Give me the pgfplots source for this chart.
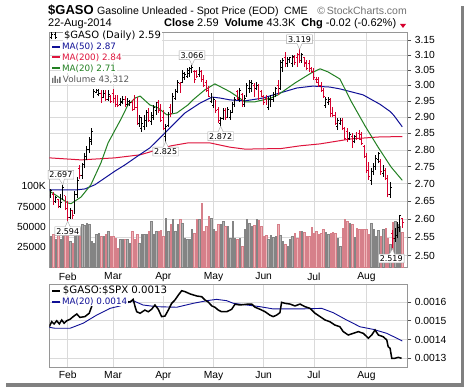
\documentclass[border=0pt]{standalone}
\usepackage{pgfplots}
\pgfplotsset{compat=1.18}
\usepackage{pgfplotstable}
\usepackage{fontspec}
\setmainfont{Liberation Sans}
\newfontfamily\dv{DejaVu Sans}
\usetikzlibrary{shapes.callouts}

\definecolor{pred}{RGB}{214,0,46}
\definecolor{maBlue}{RGB}{16,16,150}
\definecolor{maRed}{RGB}{222,20,60}
\definecolor{maGreen}{RGB}{34,128,34}
\definecolor{vgrayF}{RGB}{180,180,180}
\definecolor{vgrayD}{RGB}{132,132,132}
\definecolor{vpinkF}{RGB}{240,182,186}
\definecolor{vpinkD}{RGB}{214,128,138}
\definecolor{gridc}{RGB}{218,218,218}
\definecolor{framec}{RGB}{150,150,150}

\newcommand\tlf{\fontsize{10.3}{12}\selectfont}

\pgfplotstableread{
i O H L C V u
-7 2.665 2.685 2.66 2.68 38.6 1
-6 2.67 2.675 2.64 2.65 40.6 0
-5 2.65 2.665 2.645 2.66 34.5 1
-4 2.655 2.655 2.63 2.635 40.6 0
-3 2.635 2.67 2.63 2.645 34.5 1
-2 2.655 2.697 2.655 2.69 40.6 1
-1 2.665 2.665 2.625 2.63 40.6 0
0 2.63 2.65 2.594 2.605 48.9 0
1 2.605 2.63 2.60 2.625 32.4 1
2 2.625 2.625 2.60 2.61 30.4 0
3 2.615 2.68 2.615 2.67 38.6 1
4 2.67 2.72 2.66 2.71 44.7 1
5 2.745 2.755 2.715 2.725 48.9 0
6 2.725 2.76 2.715 2.75 53.0 1
7 2.755 2.79 2.745 2.78 51.7 1
8 2.78 2.81 2.77 2.80 54.2 1
9 2.80 2.84 2.79 2.83 53.0 1
10 2.825 2.865 2.815 2.855 32.4 1
11 2.965 2.99 2.96 2.98 30.4 1
12 2.978 2.99 2.975 2.985 40.6 1
13 2.97 2.99 2.965 2.975 42.7 1
14 2.975 2.985 2.945 2.95 38.6 0
15 2.962 2.985 2.96 2.975 38.6 1
16 2.975 2.985 2.95 2.955 40.6 0
17 2.955 2.985 2.95 2.97 44.7 1
18 2.965 2.97 2.945 2.95 38.6 0
19 2.975 2.99 2.945 2.96 38.6 0
20 2.96 2.97 2.93 2.94 36.5 0
21 2.95 2.97 2.93 2.935 24.2 0
22 2.94 2.96 2.935 2.95 34.5 1
23 2.945 2.965 2.94 2.955 34.5 1
24 2.955 2.965 2.93 2.935 34.5 0
25 2.94 2.96 2.935 2.95 35.3 1
26 2.94 2.955 2.935 2.945 30.4 1
27 2.945 2.955 2.92 2.925 44.7 0
28 2.955 2.97 2.922 2.93 35.3 0
29 2.93 2.963 2.876 2.885 40.6 0
30 2.88 2.907 2.87 2.90 30.4 1
31 2.865 2.90 2.855 2.88 41.8 1
32 2.87 2.907 2.86 2.895 41.8 1
33 2.89 2.922 2.87 2.915 40.6 1
34 2.915 2.928 2.885 2.89 44.7 0
35 2.885 2.916 2.876 2.905 57.1 1
36 2.90 2.938 2.891 2.93 40.6 1
37 2.92 2.948 2.907 2.94 44.7 1
38 2.945 2.954 2.913 2.92 44.7 0
39 2.925 2.94 2.885 2.89 46.0 0
40 2.90 2.922 2.86 2.865 38.6 0
41 2.84 2.88 2.825 2.87 61.1 1
42 2.875 2.916 2.87 2.905 44.7 1
43 2.93 2.94 2.90 2.91 53.0 0
44 2.92 2.976 2.913 2.965 59.1 1
45 2.96 2.99 2.954 2.98 44.7 1
46 2.98 3.018 2.976 3.01 53.0 1
47 3.005 3.012 2.976 2.99 59.9 0
48 3.01 3.05 3.008 3.04 55.0 1
49 3.025 3.044 3.018 3.035 36.5 1
50 3.03 3.057 3.025 3.05 34.5 1
51 3.04 3.06 3.028 3.055 34.5 1
52 3.05 3.066 3.04 3.06 46.8 1
53 3.045 3.05 3.008 3.02 42.7 0
54 3.045 3.05 3.025 3.03 59.9 0
55 3.035 3.06 3.028 3.05 59.1 1
56 3.045 3.05 3.012 3.02 79.6 0
57 3.025 3.034 2.995 3.00 44.7 0
58 3.01 3.018 2.98 2.985 50.9 0
59 2.99 2.998 2.963 2.965 63.5 0
60 2.95 2.976 2.944 2.97 61.1 1
61 2.935 2.963 2.928 2.955 46.8 1
62 2.95 2.954 2.913 2.92 44.7 0
63 2.925 2.932 2.882 2.89 53.0 0
64 2.88 2.90 2.872 2.895 53.0 1
65 2.895 2.928 2.891 2.92 57.1 1
66 2.92 2.928 2.891 2.90 50.9 0
67 2.90 2.932 2.897 2.925 50.9 1
68 2.90 2.922 2.891 2.915 36.5 1
69 2.915 2.947 2.913 2.94 57.1 1
70 2.94 2.963 2.932 2.955 36.5 1
71 2.98 2.986 2.954 2.96 35.3 0
72 2.955 2.992 2.948 2.985 36.5 1
73 2.97 2.976 2.932 2.94 26.3 0
74 2.94 2.97 2.932 2.96 46.8 1
75 2.965 3.008 2.963 3.00 59.9 1
76 2.99 3.018 2.976 3.01 55.0 1
77 2.99 3.018 2.98 3.005 50.9 1
78 3.00 3.008 2.963 2.97 51.7 0
79 2.99 3.012 2.986 3.00 59.1 1
80 2.995 3.005 2.954 2.96 58.3 0
81 2.98 2.986 2.963 2.965 50.9 0
82 2.965 2.97 2.938 2.945 38.6 0
83 2.96 2.97 2.938 2.94 39.4 0
84 2.93 2.963 2.922 2.955 35.3 1
85 2.94 2.97 2.93 2.955 39.4 1
86 2.955 2.98 2.948 2.97 37.7 1
87 2.97 2.995 2.963 2.99 38.6 1
88 3.00 3.018 2.97 2.975 53.0 0
89 2.99 3.083 2.986 3.075 39.4 1
90 3.06 3.09 3.044 3.08 32.4 1
91 3.09 3.11 3.06 3.065 28.3 0
92 3.07 3.094 3.06 3.085 26.3 1
93 3.08 3.094 3.074 3.09 34.5 1
94 3.07 3.10 3.06 3.095 38.6 1
95 3.09 3.10 3.067 3.075 42.7 0
96 3.09 3.107 3.06 3.07 36.5 0
97 3.10 3.119 3.074 3.08 44.7 0
98 3.08 3.107 3.074 3.10 44.7 1
99 3.09 3.094 3.06 3.07 43.5 0
100 3.075 3.083 3.05 3.055 38.6 0
101 3.07 3.083 3.044 3.05 38.6 0
102 3.055 3.06 3.04 3.045 49.6 0
103 3.05 3.057 3.018 3.025 42.7 0
104 3.02 3.028 3.008 3.01 44.7 0
105 3.02 3.028 2.995 3.00 40.6 0
106 3.00 3.012 2.98 2.985 42.7 0
107 2.985 2.992 2.96 2.965 46.8 0
108 2.935 2.963 2.928 2.955 43.5 1
109 2.945 2.963 2.938 2.955 41.8 1
110 2.95 2.96 2.90 2.91 42.7 0
111 2.925 2.932 2.90 2.905 43.5 0
112 2.905 2.916 2.876 2.88 42.7 0
113 2.87 2.897 2.86 2.89 36.5 1
114 2.88 2.897 2.876 2.89 26.3 1
115 2.89 2.897 2.86 2.865 48.9 0
116 2.86 2.87 2.83 2.835 59.1 0
117 2.855 2.866 2.824 2.83 57.1 0
118 2.835 2.854 2.83 2.845 55.0 1
119 2.84 2.85 2.806 2.81 53.0 0
120 2.825 2.845 2.82 2.84 37.7 1
121 2.85 2.854 2.83 2.835 48.1 0
122 2.85 2.86 2.83 2.832 46.8 0
123 2.845 2.854 2.815 2.82 47.7 0
124 2.81 2.815 2.776 2.78 46.8 0
125 2.78 2.79 2.732 2.74 46.8 0
126 2.75 2.764 2.711 2.72 40.6 0
127 2.71 2.746 2.697 2.735 55.0 1
128 2.735 2.76 2.726 2.75 46.8 1
129 2.75 2.785 2.74 2.775 38.6 1
130 2.77 2.794 2.76 2.79 46.0 1
131 2.765 2.773 2.726 2.735 38.6 0
132 2.73 2.755 2.72 2.745 47.7 1
133 2.74 2.746 2.711 2.715 48.9 0
134 2.715 2.726 2.662 2.67 36.5 0
135 2.67 2.705 2.66 2.69 28.3 1
136 2.56 2.57 2.519 2.545 56.3 0
137 2.545 2.575 2.537 2.56 57.1 1
138 2.555 2.592 2.547 2.575 53.0 1
139 2.575 2.611 2.564 2.61 50.9 1
140 2.60 2.603 2.575 2.59 43.3 0
}\pricedata
\pgfplotstablegetrowsof{\pricedata}
\pgfmathtruncatemacro\lastrow{\pgfplotsretval-1}

\newcommand\getrow[1]{%
  \pgfplotstablegetelem{#1}{i}\of\pricedata\let\bX\pgfplotsretval
  \pgfplotstablegetelem{#1}{O}\of\pricedata\let\bO\pgfplotsretval
  \pgfplotstablegetelem{#1}{H}\of\pricedata\let\bH\pgfplotsretval
  \pgfplotstablegetelem{#1}{L}\of\pricedata\let\bL\pgfplotsretval
  \pgfplotstablegetelem{#1}{C}\of\pricedata\let\bC\pgfplotsretval
  \pgfplotstablegetelem{#1}{V}\of\pricedata\let\bV\pgfplotsretval
  \pgfplotstablegetelem{#1}{u}\of\pricedata\let\bU\pgfplotsretval}

\pgfplotsset{
  panel/.style={scale only axis, width=358pt, xmin=-7.7, xmax=142.1, anchor=south west},
  barup/.style={black, line width=1pt, unbounded coords=jump, mark=none},
  bardn/.style={pred, line width=1pt, unbounded coords=jump, mark=none},
  volup/.style={ybar, bar width=1.45pt, bar shift=0pt, fill=vgrayF, draw=vgrayD, line width=0.45pt},
  voldn/.style={ybar, bar width=1.45pt, bar shift=0pt, fill=vpinkF, draw=vpinkD, line width=0.45pt},
}
\tikzset{
  pricebox/.style={rectangle callout, draw=gray!70, fill=white, inner sep=1.4pt,
     font=\dv\fontsize{8}{9}\selectfont, callout pointer width=5pt},
}

\begin{document}
\begin{tikzpicture}[x=1pt,y=1pt]
\path[use as bounding box] (0,0) rectangle (464,387);
\fill[black!50] (6,0) rectangle (464,381);
\fill[white] (0,3.5) rectangle (460.5,387);

% ---------- price panel: grid, ticks and moving averages
\begin{axis}[panel, at={(49.3pt,119.3pt)}, height=235.7pt,
  ymode=log, ymin=2.4677, ymax=3.177,
  xtick={0,19,40,61,82,103,125}, xticklabels={Feb,Mar,Apr,May,Jun,Jul,Aug},
  xticklabel style={yshift=2.5pt},
  ytick={2.5,2.55,2.6,2.65,2.7,2.75,2.8,2.85,2.9,2.95,3.0,3.05,3.1,3.15},
  yticklabels={2.50,2.55,2.60,2.65,2.70,2.75,2.80,2.85,2.90,2.95,3.00,3.05,3.10,3.15},
  ytick pos=right, yticklabel pos=right, yminorticks=false, xminorticks=false,
  grid=major, grid style={gridc, line width=0.6pt},
  axis line style={framec, line width=0.6pt},
  xtick style={draw=none}, ytick style={black!70, line width=0.6pt}, tick align=outside,
  major tick length=4pt, tick label style={font=\tlf}]
\addplot[maRed, line width=1pt] coordinates {(-7.7,2.776)(5.6,2.770)(19.8,2.776)(30.3,2.785)(43.2,2.812)(50.3,2.821)(59.5,2.821)(67.9,2.808)(74.2,2.802)(89.4,2.804)(97.2,2.812)(105.6,2.818)(118.5,2.833)(130.7,2.839)(140,2.84)};
\addplot[maBlue, line width=1pt] coordinates {(-7.7,2.682)(3.1,2.682)(7.2,2.685)(11.4,2.697)(15.6,2.717)(19.8,2.737)(23.9,2.755)(29.4,2.782)(34.4,2.806)(40.7,2.851)(49.1,2.913)(55.4,2.944)(60.4,2.963)(63.7,2.960)(67.9,2.954)(74.2,2.951)(81.7,2.960)(88.8,2.976)(95.9,2.992)(102.6,2.998)(109.7,2.995)(113.9,2.989)(123.6,2.970)(130.7,2.94)(135,2.917)(136.5,2.905)(140,2.87)};
\addplot[maGreen, line width=1pt] coordinates {(-7.4,2.678)(0.1,2.645)(1.4,2.643)(5.6,2.662)(9.7,2.697)(13.9,2.761)(16.9,2.821)(19.8,2.860)(22.3,2.894)(25.2,2.938)(28.2,2.960)(30.3,2.966)(34.4,2.938)(37.8,2.929)(41.5,2.907)(45.7,2.913)(50.3,2.938)(52.4,2.954)(57.4,2.986)(61.6,3.005)(67.9,2.980)(74.2,2.948)(78.4,2.948)(85.1,2.960)(88,2.970)(95.1,3.008)(101.8,3.040)(105.6,3.054)(108.9,3.044)(113.9,3.021)(118.5,2.951)(124.4,2.873)(129.8,2.809)(135.3,2.749)(140,2.71)};
\end{axis}

% ---------- volume overlay
\begin{axis}[panel, at={(49.3pt,119.3pt)}, height=235.7pt,
  ymin=0, ymax=290.1, axis line style={draw=none}, xtick=\empty,
  ytick={25,50,75,100}, yticklabels={25000,50000,75000,100K},
  ytick pos=left, major tick length=0pt, tick label style={font=\tlf}]
\pgfplotsinvokeforeach{0,...,\lastrow}{%
  \getrow{#1}%
  \ifnum\bU=1 \def\bS{volup}\else\def\bS{voldn}\fi
  \edef\doplot{\noexpand\addplot[\bS] coordinates {(\bX,\bV)};}%
  \doplot
}
\end{axis}

% ---------- price bars
\begin{axis}[panel, at={(49.3pt,119.3pt)}, height=235.7pt,
  ymode=log, ymin=2.4677, ymax=3.177, hide axis]
\pgfplotsinvokeforeach{0,...,\lastrow}{%
  \getrow{#1}%
  \pgfmathsetmacro\bXl{\bX-0.55}\pgfmathsetmacro\bXr{\bX+0.55}%
  \ifnum\bU=1 \def\bS{barup}\else\def\bS{bardn}\fi
  \edef\doplot{\noexpand\addplot[\bS] coordinates {(\bX,\bL)(\bX,\bH)(\bX,nan)(\bXl,\bO)(\bX,\bO)(\bX,nan)(\bX,\bC)(\bXr,\bC)};}%
  \doplot
}
\coordinate (k1) at (axis cs:52,3.066);
\coordinate (k2) at (axis cs:97,3.119);
\coordinate (k3) at (axis cs:64,2.872);
\coordinate (k4) at (axis cs:41,2.825);
\coordinate (k5) at (axis cs:-2,2.697);
\coordinate (k6) at (axis cs:0,2.594);
\coordinate (k7) at (axis cs:136,2.519);
\end{axis}

% ---------- labelled extremes
\node[pricebox, callout absolute pointer={(k1)}] at ([yshift=10pt]k1) {3.066};
\node[pricebox, callout absolute pointer={(k2)}] at ([yshift=10pt]k2) {3.119};
\node[pricebox, callout absolute pointer={(k3)}] at ([yshift=-10pt]k3) {2.872};
\node[pricebox, callout absolute pointer={(k4)}] at ([yshift=-10pt]k4) {2.825};
\node[pricebox, callout absolute pointer={(k5)}] at ([yshift=10pt,xshift=-2pt]k5) {2.697};
\node[pricebox, callout absolute pointer={(k6)}] at ([yshift=-10pt]k6) {2.594};
\node[pricebox, callout absolute pointer={(k7)}] at ([yshift=-10pt,xshift=-1.5pt]k7) {2.519};

% ---------- relative strength panel
\begin{axis}[panel, at={(49.3pt,20pt)}, height=83pt,
  ymin=0.0012536, ymax=0.0016959,
  xtick={0,19,40,61,82,103,125}, xticklabels={Feb,Mar,Apr,May,Jun,Jul,Aug},
  xticklabel style={yshift=3.5pt},
  ytick={0.0013,0.0014,0.0015,0.0016}, yticklabels={0.0013,0.0014,0.0015,0.0016},
  scaled y ticks=false, ytick pos=right, yticklabel pos=right,
  grid=major, grid style={gridc, line width=0.6pt},
  axis line style={framec, line width=0.6pt},
  xtick style={draw=none}, ytick style={black!70, line width=0.6pt}, tick align=outside,
  major tick length=4pt, tick label style={font=\tlf}]
\addplot[maBlue, line width=0.9pt] coordinates {(-7.7,0.001465)(-5.3,0.00146)(1,0.00146)(6.5,0.001487)(12.1,0.00153)(17.7,0.001566)(21.9,0.001579)(27.4,0.001607)(31.5,0.001584)(37.2,0.001575)(45.6,0.001572)(52.6,0.001593)(58.2,0.001607)(62.3,0.001614)(66.5,0.001607)(69.3,0.001593)(74.9,0.001584)(80.5,0.001575)(86,0.001563)(97.2,0.001563)(106.3,0.001566)(111.1,0.001543)(116.7,0.001504)(122.3,0.001468)(127.9,0.001454)(133.5,0.001433)(137.7,0.001407)(140,0.001392)};
\addplot[black, line width=1.5pt] coordinates {(-7.7,0.001468)(-6.7,0.001495)(-5.7,0.001483)(-4.6,0.0015)(-3.5,0.001483)(-2.5,0.001504)(-1.5,0.001487)(-0.4,0.0015)(1,0.001508)(2.3,0.001522)(3.8,0.001536)(5.1,0.001518)(7.2,0.001522)(9,0.00154)(10,0.001575)(10.5,0.0016)(15,0.0016)(20,0.00161)(26.1,0.0016)(27.4,0.001614)(28.2,0.001575)(28.9,0.001548)(30.3,0.00154)(32.3,0.001557)(33.7,0.001548)(35.1,0.001561)(36.5,0.001584)(37.9,0.001561)(39.3,0.001522)(40.7,0.001525)(42.1,0.001557)(43.5,0.001593)(44.9,0.001611)(46.3,0.001637)(47.7,0.00166)(49.1,0.001655)(51.2,0.001643)(54,0.001632)(56.1,0.001628)(57.4,0.001611)(58.8,0.0016)(60.3,0.001579)(61.6,0.001572)(63,0.001557)(64.4,0.001548)(66.5,0.001548)(68.6,0.001561)(70,0.001588)(72.1,0.001584)(74.9,0.001588)(77,0.001589)(78.4,0.001572)(80.5,0.001561)(82.6,0.001548)(84.6,0.00153)(86,0.001522)(87.4,0.00153)(88.8,0.001543)(89.5,0.001598)(90.9,0.001593)(93,0.001589)(95.1,0.001579)(97.2,0.001589)(99.3,0.001575)(101.4,0.001566)(103.5,0.00154)(105.6,0.001522)(107.7,0.001504)(109.7,0.001495)(111.8,0.001477)(113.9,0.001468)(115.3,0.001442)(117.4,0.001424)(119.5,0.001433)(121.6,0.001442)(123.7,0.001433)(125.8,0.001407)(127.2,0.001424)(128.6,0.001451)(130,0.001424)(132,0.001415)(133.5,0.001398)(134.1,0.001362)(134.9,0.001353)(135.6,0.0013)(136.9,0.0013)(138.3,0.001305)(139.7,0.0013)};
\end{axis}

% ---------- header
\node[anchor=base west, inner sep=0, font=\bfseries\fontsize{13}{15}\selectfont] at (48,372) {\$GASO};
\node[anchor=base west, inner sep=0, font=\fontsize{10.6}{12}\selectfont] at (97,372.5) {Gasoline Unleaded - Spot Price (EOD)};
\node[anchor=base west, inner sep=0, font=\fontsize{10.6}{12}\selectfont] at (284,372.5) {CME};
\node[anchor=base east, inner sep=0, font=\fontsize{10.5}{12}\selectfont, text=black!55] at (407,372.5) {\textcopyright\,StockCharts.com};
\node[anchor=base west, inner sep=0, font=\fontsize{11}{13}\selectfont] at (48,360.3) {22-Aug-2014};
\node[anchor=base west, inner sep=0, font=\fontsize{11}{13}\selectfont] at (164,360.3) {\textbf{Close} 2.59\hspace{3pt} \textbf{Volume} 43.3K\hspace{3pt} \textbf{Chg} -0.02 (-0.62\%)};
\fill[pred] (400,363) -- (406,363) -- (403,359) -- cycle;

% ---------- price panel legend
\node[anchor=west, inner sep=0.8pt, fill=white, font=\dv\fontsize{10}{11}\selectfont] at (63,351) {\$GASO (Daily) 2.59};
\draw[black, line width=0.8pt] (51.5,347.5)--(51.5,354.5) (50,350)--(51.5,350) (51.5,352.5)--(53,352.5)
   (55.5,348)--(55.5,355) (54,353)--(55.5,353) (55.5,349.5)--(57,349.5);
\node[anchor=west, inner sep=0.8pt, fill=white, text=maBlue, font=\dv\fontsize{8.8}{10}\selectfont] at (61,340) {MA(50) 2.87};
\node[anchor=west, inner sep=0.8pt, fill=white, text=maRed, font=\dv\fontsize{8.8}{10}\selectfont] at (61,329.5) {MA(200) 2.84};
\node[anchor=west, inner sep=0.8pt, fill=white, text=maGreen, font=\dv\fontsize{8.8}{10}\selectfont] at (61,318.5) {MA(20) 2.71};
\node[anchor=west, inner sep=0.8pt, fill=white, text=black!65, font=\dv\fontsize{8.8}{10}\selectfont] at (62,307.5) {Volume 43,312};
\draw[maBlue, line width=2pt] (52,340)--(59.5,340);
\draw[maRed, line width=2pt] (52,329.5)--(59.5,329.5);
\draw[maGreen, line width=2pt] (52,318.5)--(59.5,318.5);
\fill[black!55] (52,304) rectangle (53.4,309) (54.4,304) rectangle (55.8,311) (56.8,304) rectangle (58.2,308) (59.2,304) rectangle (60.6,310);

% ---------- relative strength legend
\node[anchor=west, inner sep=0.8pt, fill=white, font=\dv\fontsize{10.2}{11}\selectfont] at (62,96.3) {\$GASO:\$SPX 0.0013};
\draw[black, line width=2pt] (52,96.3)--(59.5,96.3);
\node[anchor=west, inner sep=0.8pt, fill=white, text=maBlue, font=\dv\fontsize{8.8}{10}\selectfont] at (61,85.3) {MA(20) 0.0014};
\draw[maBlue, line width=2pt] (52,85.3)--(59.5,85.3);
\end{tikzpicture}
\end{document}
